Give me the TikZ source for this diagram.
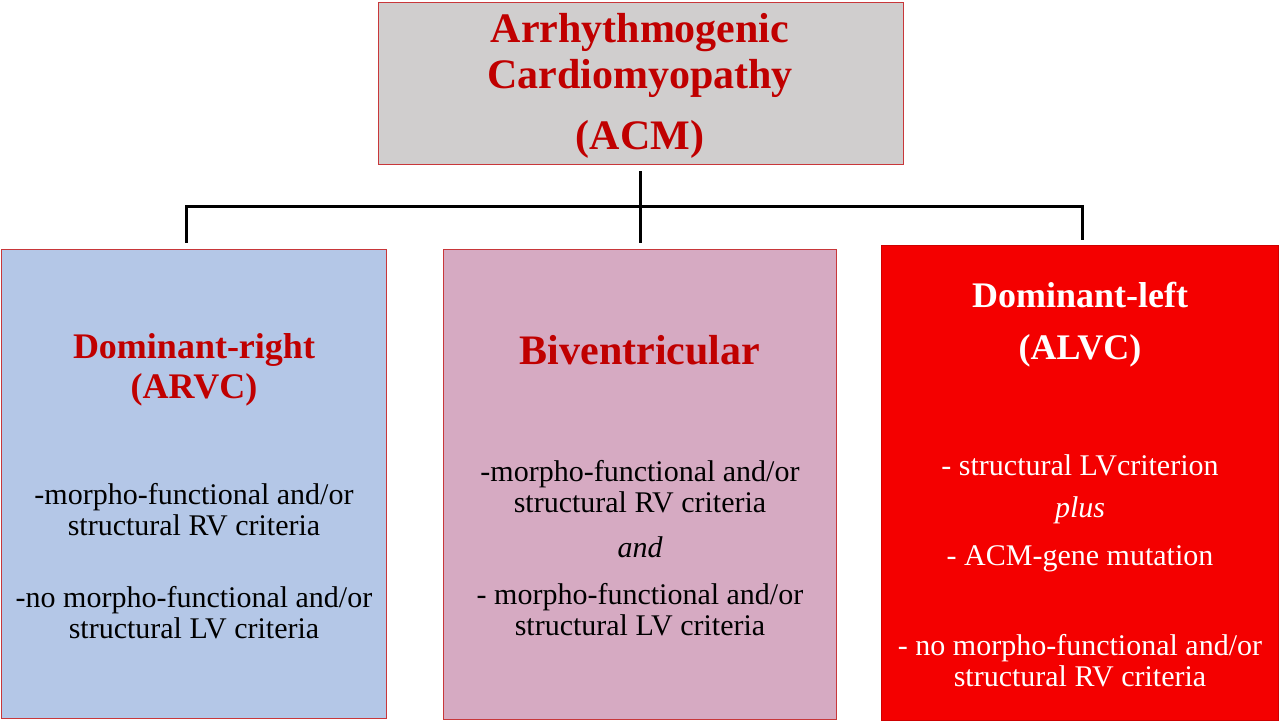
\documentclass[tikz,border=0pt]{standalone}
\usepackage{fontspec}
\setmainfont{Liberation Serif}
\usetikzlibrary{positioning}
\definecolor{acmRed}{HTML}{C00000}
\definecolor{acmGray}{HTML}{D0CECE}
\definecolor{rvBlue}{HTML}{B4C7E7}
\definecolor{biPink}{HTML}{D6AAC2}
\definecolor{lvRed}{HTML}{F40000}
\definecolor{edgeRed}{HTML}{C8373A}
\tikzset{
  catbox/.style={draw=edgeRed,line width=1.2pt,inner sep=0pt,anchor=north west},
  headTxt/.style={font=\bfseries\fontsize{36}{40}\selectfont,text=acmRed,align=center},
  bigTxt/.style={font=\bfseries\fontsize{42}{46}\selectfont,text=acmRed,align=center},
  bodyTxt/.style={font=\fontsize{30}{31}\selectfont,align=center},
  linkLine/.style={line width=3pt}
}

\begin{document}
\begin{tikzpicture}[x=1pt,y=-1pt]
  \fill[white] (0,0) rectangle (1280,722);
  \useasboundingbox (0,0) rectangle (1280,722);
  % boxes
  \node[catbox,fill=acmGray,minimum width=525pt,minimum height=162pt] (acm) at (378,2) {};
  \node[catbox,fill=rvBlue,minimum width=385pt,minimum height=469pt] (arvc) at (1,249) {};
  \node[catbox,fill=biPink,minimum width=393pt,minimum height=470pt] (biv) at (443,249) {};
  \node[catbox,fill=lvRed,draw=lvRed!85!black,minimum width=397pt,minimum height=475pt] (alvc) at (881,245) {};
  % connectors
  \coordinate (hub) at (640,207);
  \coordinate (hubL) at (186,207);
  \coordinate (hubR) at (1082,207);
  \draw[linkLine] ([yshift=-6pt]acm.south -| hub) -- (hub);
  \draw[linkLine,shorten <=6pt,shorten >=5pt] (hubL |- arvc.north) -- (hubL) -- (hubR) -- (hubR |- alvc.north);
  \draw[linkLine,shorten >=6pt] (hub) -- (hub |- biv.north);
  % top
  \node[bigTxt] (acmName) at (640,55) {Arrhythmogenic\\Cardiomyopathy};
  \node[bigTxt] (acmAbbr) at (640,139) {(ACM)};
  % dominant-right
  \node[headTxt] (arvcName) at (194,370) {Dominant-right\\(ARVC)};
  \node[bodyTxt] (arvcYes) at (194,509.5) {-morpho-functional and/or\\structural RV criteria};
  \node[bodyTxt] (arvcNo) at (194,612.5) {-no morpho-functional and/or\\structural LV criteria};
  % biventricular
  \node[bigTxt] (bivName) at (640,350) {Biventricular};
  \node[bodyTxt] (bivRV) at (640,486.5) {-morpho-functional and/or\\structural RV criteria};
  \node[bodyTxt,font=\itshape\fontsize{30}{31}\selectfont] (bivAnd) at (640,547) {and};
  \node[bodyTxt] (bivLV) at (640,610) {- morpho-functional and/or\\structural LV criteria};
  % dominant-left
  \node[headTxt,text=white] (alvcName) at (1080,295) {Dominant-left};
  \node[headTxt,text=white] (alvcAbbr) at (1080,351) {(ALVC)};
  \node[bodyTxt,text=white] (alvcLV) at (1080,465) {- structural LVcriterion};
  \node[bodyTxt,text=white,font=\itshape\fontsize{30}{31}\selectfont] (alvcPlus) at (1080,510) {plus};
  \node[bodyTxt,text=white] (alvcGene) at (1080,559) {- ACM-gene mutation};
  \node[bodyTxt,text=white] (alvcNo) at (1080,660.5) {- no morpho-functional and/or\\structural RV criteria};
\end{tikzpicture}
\end{document}
